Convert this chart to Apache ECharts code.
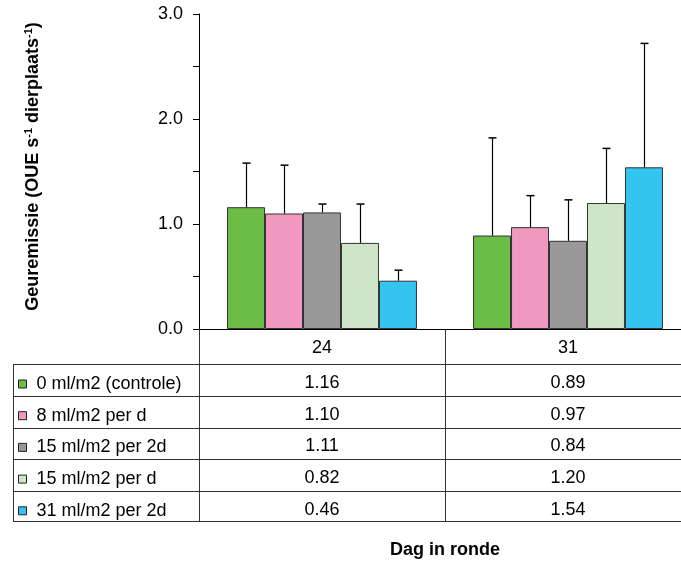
<!DOCTYPE html>
<html>
<head>
<meta charset="utf-8">
<script src="https://cdn.jsdelivr.net/npm/echarts@6/dist/echarts.min.js"></script>
<style>
html,body{margin:0;padding:0;background:#fff;}
#chart{width:681px;height:561px;}
</style>
</head>
<body>
<div id="chart"></div>
<script>
// ---- data ----
const categories = ['24', '31'];
const seriesNames = ['0 ml/m2 (controle)', '8 ml/m2 per d', '15 ml/m2 per 2d', '15 ml/m2 per d', '31 ml/m2 per 2d'];
const val0 = [1.16, 0.89];
const val8 = [1.10, 0.97];
const val15_2d = [1.11, 0.84];
const val15_d = [0.82, 1.20];
const val31_2d = [0.46, 1.54];
const err0 = [0.42, 0.93];
const err8 = [0.46, 0.30];
const err15_2d = [0.08, 0.39];
const err15_d = [0.37, 0.52];
const err31_2d = [0.10, 1.18];
const yTicks = [0, 1, 2, 3];

const values = [val0, val8, val15_2d, val15_d, val31_2d];
const errors = [err0, err8, err15_2d, err15_d, err31_2d];
const colors = ['#6cbd46', '#f198c1', '#999999', '#cee6c7', '#33c4f0'];
const gapPct = 22.8;
const FONT = 'Liberation Sans, Arial, sans-serif';

const chart = echarts.init(document.getElementById('chart'));

const barSeries = values.map((vals, si) => ({
  type: 'bar',
  name: seriesNames[si],
  data: vals,
  barGap: 0,
  barCategoryGap: gapPct + '%',
  itemStyle: { color: colors[si], borderColor: '#333', borderWidth: 1 },
  z: 2
}));

const errSeries = values.map((vals, si) => ({
  type: 'custom',
  name: 'err' + si,
  data: vals.map((v, ci) => [ci, v, errors[si][ci]]),
  z: 3,
  silent: true,
  renderItem: function (params, api) {
    const ci = api.value(0), v = api.value(1), e = api.value(2);
    const base = api.coord([ci, v]);
    const top = api.coord([ci, v + e]);
    const bandW = api.size([1, 0])[0];
    const n = values.length;
    const barW = bandW * (1 - gapPct / 100) / n;
    const x = Math.round(base[0] + (si - (n - 1) / 2) * barW) + 0.5;
    const cap = 4;
    return {
      type: 'group',
      children: [
        { type: 'line', shape: { x1: x, y1: base[1], x2: x, y2: top[1] }, style: { stroke: '#000', lineWidth: 1.2 } },
        { type: 'line', shape: { x1: x - cap, y1: top[1], x2: x + cap, y2: top[1] }, style: { stroke: '#000', lineWidth: 1.5 } }
      ]
    };
  }
}));

function tableLabel(cat, idx) {
  let s = '{h|' + cat + '}';
  values.forEach(vals => { s += '\n{v|' + vals[idx].toFixed(2) + '}'; });
  return s;
}

const rowYs = [364.5, 396.5, 428.5, 459.5, 491.5, 521.5];
const graphics = rowYs.map(y => ({
  type: 'line', shape: { x1: 13, y1: y, x2: 681, y2: y }, style: { stroke: '#333', lineWidth: 1 }, silent: true
}));
graphics.push({ type: 'line', shape: { x1: 13.5, y1: 364, x2: 13.5, y2: 522 }, style: { stroke: '#333', lineWidth: 1 }, silent: true });

chart.setOption({
  animation: false,
  textStyle: { fontFamily: FONT },
  grid: { left: 199, top: 14, width: 492, height: 315, containLabel: false, outerBoundsMode: 'none' },
  legend: {
    orient: 'vertical',
    left: 18,
    top: 374,
    padding: 0,
    itemWidth: 8,
    itemHeight: 8,
    itemGap: 11.7,
    icon: 'rect',
    data: seriesNames,
    formatter: '\u00a0{name}',
    selectedMode: false,
    itemStyle: { borderColor: '#222', borderWidth: 1 },
    textStyle: { fontSize: 18, color: '#000', lineHeight: 20, fontFamily: FONT }
  },
  xAxis: {
    type: 'category',
    data: categories,
    name: 'Dag in ronde',
    nameLocation: 'middle',
    nameGap: 212,
    nameTextStyle: { fontSize: 18, fontWeight: 'bold', color: '#000', fontFamily: FONT },
    axisLine: { lineStyle: { color: '#000', width: 1 } },
    axisTick: { show: true, length: 193, lineStyle: { color: '#333' } },
    axisLabel: {
      interval: 0,
      margin: 0,
      color: '#000',
      fontSize: 18,
      formatter: tableLabel,
      rich: {
        h: { fontSize: 18, lineHeight: 38, color: '#000', fontFamily: FONT },
        v: { fontSize: 18, lineHeight: 31.8, color: '#000', fontFamily: FONT }
      }
    }
  },
  yAxis: {
    type: 'value',
    min: 0,
    max: 3,
    interval: 0.5,
    name: 'Geuremissie (OUE s{sup|-1} dierplaats{sup|-1})',
    nameLocation: 'middle',
    nameRotate: 90,
    nameGap: 156,
    nameTextStyle: {
      fontSize: 18, fontWeight: 'bold', color: '#000', fontFamily: FONT,
      padding: [0, 0, 0, 10],
      rich: {
        sup: { fontSize: 11, fontWeight: 'bold', color: '#000', padding: [0, 0, 9, 0], fontFamily: FONT }
      }
    },
    axisLine: { show: true, lineStyle: { color: '#000', width: 1 } },
    axisTick: { show: true, length: 6, lineStyle: { color: '#000' } },
    splitLine: { show: false },
    axisLabel: {
      margin: 16,
      fontSize: 18,
      color: '#000',
      formatter: v => (yTicks.indexOf(v) >= 0 ? v.toFixed(1) : '')
    }
  },
  series: barSeries.concat(errSeries),
  graphic: graphics
});
</script>
</body>
</html>
